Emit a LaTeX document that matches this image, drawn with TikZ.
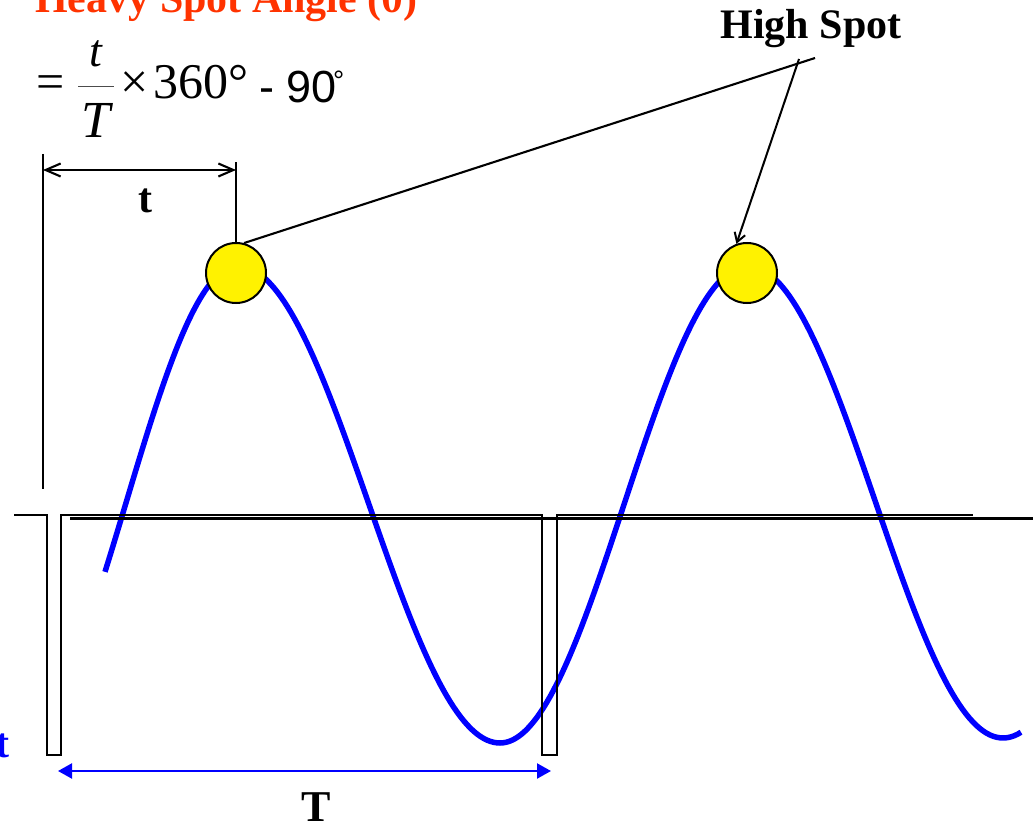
\documentclass[tikz,border=0pt]{standalone}
\usepackage{fontspec}
\setmainfont{Liberation Serif}
\newfontfamily\arialfont{Liberation Sans}
\usetikzlibrary{arrows.meta,positioning}
\definecolor{titlered}{RGB}{255,51,0}

\begin{document}
\begin{tikzpicture}[
x=1pt, y=-1pt,
lbl/.style={inner sep=0pt, font=\fontsize{42}{42}\selectfont\bfseries},
fsym/.style={inner sep=0pt, font=\fontsize{50}{50}\selectfont},
spot/.style={circle, draw, line width=2pt, fill=yellow, minimum size=60pt, inner sep=0pt},
signal/.style={line width=2.1pt},
wave/.style={blue, line width=5.5pt, line join=round},
dim/.style={{Straight Barb[length=15pt,width=13pt]}-{Straight Barb[length=15pt,width=13pt]}, line width=2.1pt},
period/.style={{Triangle[length=14pt,width=15pt]}-{Triangle[length=14pt,width=15pt]}, blue, line width=2.2pt},
pointer/.style={-{Straight Barb[length=9pt,width=11pt]}, line width=2pt}
]
\useasboundingbox (0,0) rectangle (1033,826);

\node[lbl, titlered, anchor=base west] (title) at (35,13) {Heavy Spot Angle (θ)};
\node[lbl, anchor=base] (high) at (811,39) {High Spot};

\node[fsym, anchor=base west] (eq) at (36,99) {=};
\node[inner sep=0pt, font=\fontsize{46}{46}\selectfont\itshape, anchor=base] (num) at (96,67) {t};
\node[fsym, font=\fontsize{52}{52}\selectfont\itshape, anchor=base] (den) at (96,138) {T};
\draw[line width=0.9pt, black!70] (78,86) -- (114,86);
\node[fsym, anchor=base west] (times) at (120,99) {×};
\node[fsym, anchor=base west] (full) at (153,99) {360°};
\node[inner sep=0pt, font=\fontsize{45}{45}\selectfont\arialfont, anchor=base west] (minus) at (259,103) {- 90};
\node[inner sep=0pt, font=\fontsize{28}{28}\selectfont\arialfont, anchor=base west] (deg) at (333,91) {°};

\draw[wave] plot[domain=105:238, samples=50] (\x, {504.5-238.5*cos(0.8*(\x-238))})
  -- plot[domain=238:500, samples=80] (\x, {504.5-238.5*cos(0.687023*(\x-238))})
  -- plot[domain=500:748, samples=80] (\x, {504.5-238.5*cos(0.725806*(\x-748))})
  -- plot[domain=748:1021, samples=80] (\x, {502-236*cos(0.705882*(\x-748))});

\draw[signal] (14,515) -- (47,515) -- (47,755) -- (61,755) -- (61,515) -- (542,515)
  -- (542,755) -- (557,755) -- (557,515) -- (973,515);
\draw[line width=3pt] (70,518.5) -- (1033,518.5);

\node[spot] (spot1) at (236,273) {};
\node[spot] (spot2) at (747,273) {};

\coordinate (tA) at (43,154);
\coordinate (tB) at (43,489);
\coordinate (dimA) at (43,170);
\coordinate (dimB) at (236,170);
\draw[signal] (tA) -- (tB);
\draw[signal] (spot1.north) -- ++(0,-80);
\draw[dim] (dimA) -- (dimB);
\node[lbl, anchor=base] (tlabel) at (145,213) {t};

\coordinate (hsA) at (815,58);
\coordinate (hsB) at (799,59);
\draw[signal] (hsA) -- (spot1.75);
\draw[pointer] (hsB) -- (spot2.110);

\coordinate (perA) at (58,771);
\coordinate (perB) at (551,771);
\draw[period] (perA) -- (perB);
\node[lbl, font=\fontsize{44}{44}\selectfont\bfseries, anchor=base] (Tlabel) at (316.5,821) {T};
\node[lbl, blue, anchor=base east] (input) at (10,757) {t};
\end{tikzpicture}
\end{document}
